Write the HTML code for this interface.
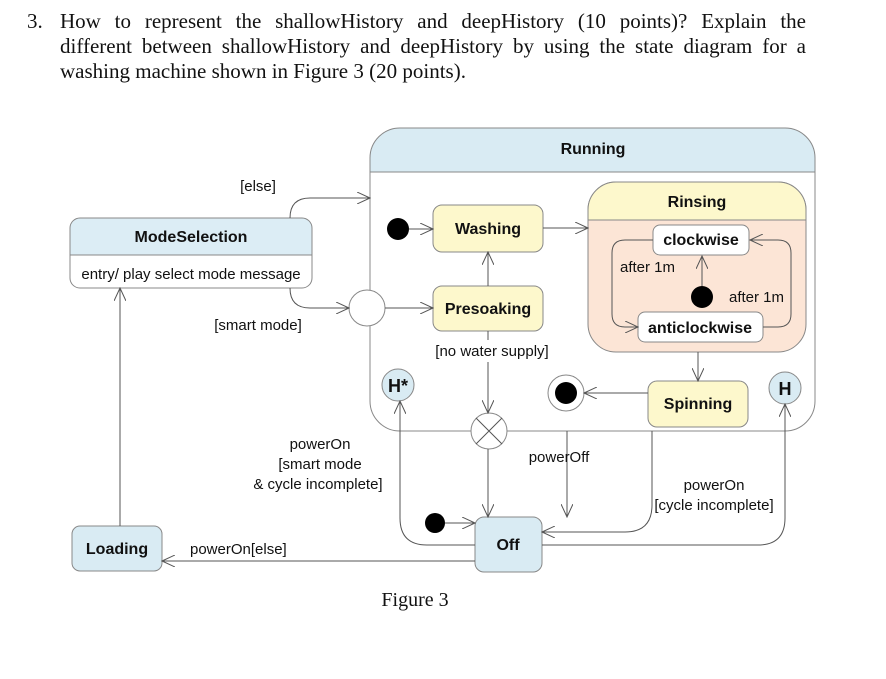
<!DOCTYPE html>
<html><head><meta charset="utf-8"><style>
body{margin:0;background:#fff;position:relative;width:886px;height:679px;overflow:hidden}
svg{display:block;position:absolute;left:0;top:0}
.hd{position:absolute;left:60px;width:746px;font-family:"Liberation Serif",serif;font-size:21px;line-height:25px;color:#111;white-space:nowrap}
.j{text-align:justify;text-align-last:justify}
.n{position:absolute;left:27px;top:9px;font-family:"Liberation Serif",serif;font-size:21px;line-height:25px;color:#111}
.t{font-family:"Liberation Serif",serif;font-size:21px;fill:#111}
.s{font-family:"Liberation Sans",sans-serif;font-size:15px;fill:#111}
.b{font-family:"Liberation Sans",sans-serif;font-size:16px;font-weight:bold;fill:#111}
.l{stroke:#555;stroke-width:1;fill:none}
</style></head><body>
<svg width="886" height="679" viewBox="0 0 886 679" xmlns="http://www.w3.org/2000/svg">
<defs><marker id="a" markerWidth="14" markerHeight="12" refX="13" refY="6" orient="auto" markerUnits="userSpaceOnUse"><path d="M0,0 L13,6 L0,12" fill="none" stroke="#555"/></marker></defs>

<path d="M370,172 V158 A30,30 0 0 1 400,128 H785 A30,30 0 0 1 815,158 V172 Z" fill="#d9ebf3"/>
<rect x="370" y="128" width="445" height="303" rx="30" fill="none" stroke="#888"/>
<line x1="370" y1="172" x2="815" y2="172" stroke="#888"/>
<text class="b" x="593" y="154" text-anchor="middle">Running</text>

<path d="M70,255 V228 A10,10 0 0 1 80,218 H302 A10,10 0 0 1 312,228 V255 Z" fill="#dcedf5"/>
<rect x="70" y="218" width="242" height="70" rx="10" fill="none" stroke="#888"/>
<line x1="70" y1="255" x2="312" y2="255" stroke="#888"/>
<text class="b" x="191" y="242" text-anchor="middle">ModeSelection</text>
<text class="s" x="191" y="279" text-anchor="middle">entry/ play select mode message</text>

<rect x="433" y="205" width="110" height="47" rx="9" fill="#fdf8cc" stroke="#888"/>
<text class="b" x="488" y="234" text-anchor="middle">Washing</text>
<rect x="433" y="286" width="110" height="45" rx="9" fill="#fdf8cc" stroke="#888"/>
<text class="b" x="488" y="314" text-anchor="middle">Presoaking</text>
<circle cx="398" cy="229" r="11" fill="#000"/>
<circle cx="367" cy="308" r="18" fill="#fff" stroke="#888"/>

<rect x="588" y="182" width="218" height="170" rx="28" fill="#fce5d6" stroke="#888"/>
<path d="M588,220 V210 A28,28 0 0 1 616,182 H778 A28,28 0 0 1 806,210 V220 Z" fill="#fdf8cc" stroke="#888"/>
<text class="b" x="697" y="207" text-anchor="middle">Rinsing</text>
<rect x="653" y="225" width="96" height="30" rx="7" fill="#fff" stroke="#888"/>
<text class="b" x="701" y="245" text-anchor="middle">clockwise</text>
<rect x="638" y="312" width="125" height="30" rx="7" fill="#fff" stroke="#888"/>
<text class="b" x="700" y="333" text-anchor="middle">anticlockwise</text>
<circle cx="702" cy="297" r="11" fill="#000"/>
<path class="l" d="M702,286 V256" marker-end="url(#a)"/>
<path class="l" d="M653,240 H625 Q612,240 612,253 V314 Q612,327 625,327 H638" marker-end="url(#a)"/>
<path class="l" d="M763,327 H778 Q791,327 791,314 V253 Q791,240 778,240 H750" marker-end="url(#a)"/>
<text class="s" x="620" y="272">after 1m</text>
<text class="s" x="729" y="302">after 1m</text>

<rect x="648" y="381" width="100" height="46" rx="9" fill="#fdf8cc" stroke="#888"/>
<text class="b" x="698" y="409" text-anchor="middle">Spinning</text>
<circle cx="566" cy="393" r="18" fill="#fff" stroke="#888"/>
<circle cx="566" cy="393" r="11" fill="#000"/>
<circle cx="398" cy="385" r="16" fill="#d9ebf3" stroke="#888"/>
<text class="b" x="398" y="392" text-anchor="middle" style="font-size:18px">H*</text>
<circle cx="785" cy="388" r="16" fill="#d9ebf3" stroke="#888"/>
<text class="b" x="785" y="395" text-anchor="middle" style="font-size:18px">H</text>
<circle cx="489" cy="431" r="18" fill="#fff" stroke="#888"/>
<path class="l" d="M476,418 L502,444 M502,418 L476,444"/>

<rect x="475" y="517" width="67" height="55" rx="9" fill="#d9ebf3" stroke="#888"/>
<text class="b" x="508" y="550" text-anchor="middle">Off</text>
<circle cx="435" cy="523" r="10" fill="#000"/>
<rect x="72" y="526" width="90" height="45" rx="8" fill="#d9ebf3" stroke="#888"/>
<text class="b" x="117" y="554" text-anchor="middle">Loading</text>

<path class="l" d="M409,229 H433" marker-end="url(#a)"/>
<path class="l" d="M543,228 H588" marker-end="url(#a)"/>
<path class="l" d="M385,308 H433" marker-end="url(#a)"/>
<path class="l" d="M488,286 V252" marker-end="url(#a)"/>
<path class="l" d="M488,331 V340 M488,362 V413" marker-end="url(#a)"/>
<text class="s" x="492" y="356" text-anchor="middle">[no water supply]</text>
<path class="l" d="M488,449 V517" marker-end="url(#a)"/>
<path class="l" d="M698,352 V381" marker-end="url(#a)"/>
<path class="l" d="M648,393 H584" marker-end="url(#a)"/>
<path class="l" d="M445,523 H475" marker-end="url(#a)"/>
<path class="l" d="M567,431 V517" marker-end="url(#a)"/>
<text class="s" x="559" y="462" text-anchor="middle">powerOff</text>
<path class="l" d="M652,431 V505 Q652,532 625,532 H542" marker-end="url(#a)"/>
<path class="l" d="M542,545 H758 Q785,545 785,518 V404" marker-end="url(#a)"/>
<text class="s" x="714" y="490" text-anchor="middle">powerOn</text>
<text class="s" x="714" y="510" text-anchor="middle">[cycle incomplete]</text>
<path class="l" d="M475,545 H427 Q400,545 400,518 V401" marker-end="url(#a)"/>
<text class="s" x="320" y="449" text-anchor="middle">powerOn</text>
<text class="s" x="320" y="469" text-anchor="middle">[smart mode</text>
<text class="s" x="318" y="489" text-anchor="middle">&amp; cycle incomplete]</text>
<path class="l" d="M475,561 H162" marker-end="url(#a)"/>
<text class="s" x="190" y="554">powerOn[else]</text>
<path class="l" d="M120,526 V288" marker-end="url(#a)"/>
<path class="l" d="M290,218 Q290,198 310,198 H370" marker-end="url(#a)"/>
<text class="s" x="258" y="191" text-anchor="middle">[else]</text>
<path class="l" d="M290,288 Q290,308 310,308 H349" marker-end="url(#a)"/>
<text class="s" x="258" y="330" text-anchor="middle">[smart mode]</text>

<text class="t" x="415" y="606" text-anchor="middle" style="font-size:20px">Figure 3</text>
</svg>
<div class="n">3.</div>
<div class="hd j" style="top:9px">How to represent the shallowHistory and deepHistory (10 points)? Explain the</div>
<div class="hd j" style="top:34px">different between shallowHistory and deepHistory by using the state diagram for a</div>
<div class="hd" style="top:59px">washing machine shown in Figure 3 (20 points).</div>
</body></html>
